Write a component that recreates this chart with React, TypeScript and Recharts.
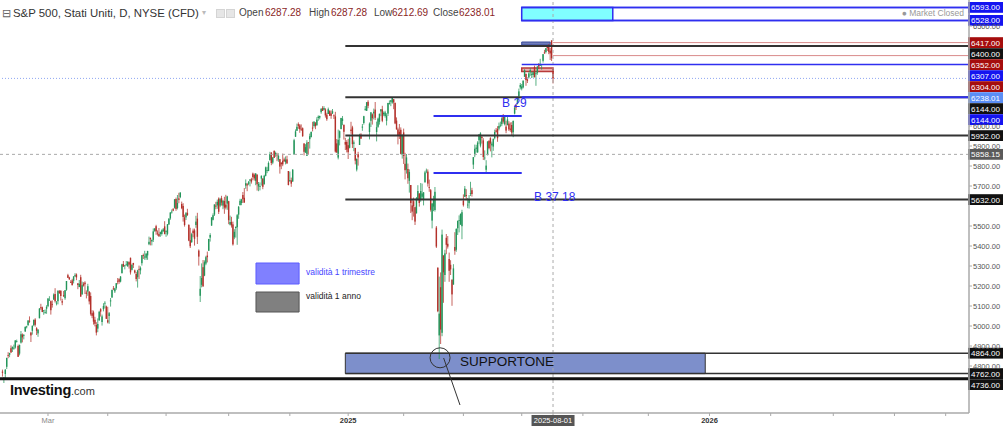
import React from 'react';
import { ComposedChart, Bar, XAxis, YAxis, ReferenceLine, ReferenceArea, ReferenceDot } from 'recharts';

type Row = [number, number, number, number]; // open, high, low, close

const jan24: Row[] = [
  [4772,4782,4747,4766],[4739,4745,4715,4739],[4760,4785,4740,4781],[4796,4842,4785,4840],
  [4854,4869,4839,4850],[4856,4866,4844,4865],[4889,4903,4865,4868],[4886,4898,4870,4895],
  [4888,4907,4881,4891],[4892,4929,4887,4928],[4925,4932,4917,4925],[4900,4907,4845,4846],
];
const feb24: Row[] = [
  [4862,4906,4853,4906],[4917,4975,4912,4959],[4957,4963,4918,4943],[4950,4960,4933,4954],
  [4973,4999,4970,4995],[4995,5001,4988,4998],[5004,5030,5001,5027],[5026,5048,5016,5022],
  [4967,4971,4920,4953],[4976,5003,4957,5001],[5004,5033,4999,5030],[5032,5039,4997,5006],
  [4989,4994,4955,4976],[4963,4984,4946,4982],[5039,5090,5038,5087],[5094,5111,5081,5089],
  [5093,5097,5069,5070],[5074,5080,5056,5078],[5067,5083,5061,5070],[5086,5104,5061,5096],
];
const mar24: Row[] = [
  [5099,5140,5094,5137],[5131,5149,5127,5131],[5124,5127,5057,5079],[5109,5128,5092,5105],
  [5132,5163,5131,5157],[5160,5189,5117,5124],[5112,5125,5103,5117],[5124,5180,5108,5175],
  [5174,5180,5160,5165],[5176,5179,5127,5150],[5124,5136,5104,5117],[5154,5175,5145,5149],
  [5139,5180,5131,5179],[5181,5225,5176,5225],[5254,5261,5240,5241],[5243,5246,5230,5234],
  [5219,5229,5216,5218],[5228,5236,5203,5204],[5226,5249,5213,5248],[5248,5264,5246,5254],
];
const apr24: Row[] = [
  [5258,5263,5229,5243],[5213,5215,5184,5205],[5195,5230,5194,5211],[5244,5256,5146,5147],
  [5158,5222,5157,5204],[5211,5219,5197,5202],[5217,5224,5160,5209],[5167,5178,5138,5161],
  [5172,5211,5151,5199],[5171,5175,5108,5123],[5150,5168,5052,5061],[5064,5079,5039,5051],
  [5068,5077,5007,5022],[5031,5046,4998,5011],[5005,5019,4953,4967],[4987,5038,4969,5010],
  [5028,5076,5027,5071],[5084,5089,5047,5072],[5020,5057,5002,5048],[5084,5114,5073,5100],
  [5114,5124,5088,5116],[5098,5102,5035,5036],
];
const may24: Row[] = [
  [5029,5096,5013,5018],[5050,5070,5011,5064],[5123,5140,5097,5128],[5142,5181,5142,5181],
  [5188,5200,5179,5187],[5173,5191,5165,5188],[5189,5215,5181,5214],[5226,5240,5208,5223],
  [5234,5239,5211,5221],[5222,5250,5218,5247],[5264,5311,5263,5308],[5310,5325,5296,5297],
  [5303,5305,5283,5303],[5305,5325,5302,5308],[5298,5324,5297,5321],[5319,5323,5287,5307],
  [5341,5342,5257,5268],[5281,5311,5278,5305],[5315,5316,5290,5306],[5278,5282,5262,5267],
  [5260,5270,5223,5235],[5244,5281,5192,5278],
];
const jun24: Row[] = [
  [5285,5302,5235,5283],[5278,5298,5258,5291],[5314,5355,5302,5354],[5354,5362,5335,5352],
  [5344,5376,5331,5347],[5341,5365,5331,5361],[5353,5376,5331,5375],[5409,5447,5404,5421],
  [5441,5442,5403,5434],[5423,5432,5403,5431],[5431,5488,5420,5473],[5476,5490,5471,5487],
  [5499,5506,5456,5473],[5466,5478,5452,5465],[5460,5490,5447,5448],[5460,5472,5446,5469],
  [5460,5483,5452,5478],[5473,5490,5472,5483],[5498,5524,5458,5460],
];
const jul24: Row[] = [
  [5472,5479,5446,5475],[5461,5510,5453,5509],[5507,5539,5507,5537],[5538,5570,5531,5567],
  [5572,5583,5562,5572],[5584,5590,5574,5577],[5591,5635,5587,5633],[5635,5642,5576,5585],
  [5590,5655,5583,5615],[5638,5666,5614,5631],[5644,5669,5639,5667],[5610,5622,5584,5589],
  [5600,5614,5522,5545],[5543,5557,5497,5505],[5543,5570,5530,5564],[5566,5586,5550,5555],
  [5505,5509,5424,5427],[5429,5491,5390,5399],[5419,5466,5416,5459],[5477,5487,5444,5464],
  [5478,5487,5402,5436],[5505,5551,5491,5522],
];
const aug24: Row[] = [
  [5537,5566,5410,5446],[5377,5383,5302,5347],[5151,5250,5120,5186],[5206,5313,5193,5240],
  [5294,5330,5195,5199],[5252,5328,5249,5319],[5312,5351,5304,5344],[5352,5372,5318,5344],
  [5376,5436,5376,5435],[5442,5464,5422,5455],[5502,5544,5501,5543],[5531,5563,5528,5554],
  [5557,5608,5550,5608],[5602,5621,5584,5597],[5603,5632,5586,5621],[5637,5643,5560,5571],
  [5602,5641,5594,5634],[5639,5651,5602,5617],[5602,5631,5584,5626],[5625,5646,5561,5592],
  [5607,5656,5583,5592],[5612,5651,5581,5648],
];
const sep24: Row[] = [
  [5624,5626,5509,5529],[5507,5552,5503,5520],[5520,5546,5492,5503],[5508,5522,5402,5408],
  [5443,5484,5434,5471],[5490,5497,5442,5496],[5494,5560,5406,5554],[5557,5600,5536,5596],
  [5604,5636,5604,5626],[5615,5636,5604,5633],[5655,5670,5615,5634],[5641,5690,5615,5618],
  [5702,5733,5686,5714],[5709,5715,5674,5703],[5711,5725,5704,5719],[5727,5735,5698,5732],
  [5733,5741,5712,5722],[5762,5767,5729,5745],[5756,5763,5727,5738],[5726,5765,5704,5762],
];
const oct24: Row[] = [
  [5757,5758,5677,5709],[5698,5720,5674,5710],[5698,5718,5678,5700],[5737,5753,5702,5751],
  [5737,5739,5684,5696],[5709,5756,5707,5751],[5751,5797,5748,5793],[5778,5796,5764,5780],
  [5775,5823,5774,5815],[5829,5871,5828,5859],[5866,5870,5804,5815],[5817,5844,5809,5843],
  [5875,5879,5840,5841],[5859,5872,5846,5865],[5857,5866,5824,5853],[5832,5863,5821,5851],
  [5834,5835,5762,5797],[5817,5818,5784,5809],[5826,5862,5799,5808],[5833,5842,5822,5823],
  [5819,5848,5808,5832],[5833,5851,5811,5813],[5775,5775,5703,5705],
];
const nov24: Row[] = [
  [5723,5772,5723,5729],[5728,5742,5696,5712],[5722,5784,5722,5782],[5858,5936,5856,5929],
  [5946,5983,5946,5973],[5976,6012,5976,5996],[6009,6018,5986,6001],[6003,6010,5966,5984],
  [5986,6008,5975,5985],[5989,5993,5946,5949],[5912,5915,5853,5871],[5867,5909,5866,5894],
  [5851,5929,5850,5917],[5918,5920,5860,5917],[5934,5962,5887,5949],[5944,5973,5944,5970],
  [5992,6021,5973,5987],[6000,6025,5992,6021],[6014,6020,5984,5999],[6003,6044,6003,6032],
];
const dec24: Row[] = [
  [6040,6053,6026,6047],[6042,6052,6033,6050],[6069,6089,6061,6086],[6089,6099,6075,6075],
  [6081,6099,6079,6090],[6083,6089,6042,6053],[6057,6066,6026,6034],[6060,6092,6060,6084],
  [6074,6079,6051,6051],[6063,6078,6036,6051],[6063,6085,6060,6074],[6053,6058,6035,6051],
  [6048,6071,5867,5872],[5913,5935,5866,5867],[5842,5982,5833,5931],[5941,5978,5903,5974],
  [5985,6041,5983,6040],[6025,6050,6004,6037],[6006,6007,5932,5971],[5920,5941,5880,5907],
  [5920,5929,5868,5882],
];
const jan25: Row[] = [
  [5904,5935,5835,5869],[5891,5949,5888,5942],[5982,6021,5961,5975],[5993,6001,5890,5909],
  [5911,5928,5874,5918],[5890,5891,5808,5827],[5782,5837,5773,5836],[5859,5871,5802,5843],
  [5905,5961,5905,5950],[5957,5964,5935,5937],[5992,6010,5976,5997],[6015,6051,6007,6049],
  [6081,6100,6076,6086],[6076,6119,6075,6119],[6121,6129,6089,6101],[5970,6018,5933,6012],
  [6026,6070,5995,6068],[6058,6063,6007,6039],[6063,6087,6033,6071],[6082,6120,6030,6041],
];
const feb25: Row[] = [
  [5970,6022,5923,5994],[5996,6042,5991,6037],[6021,6062,6007,6061],[6073,6084,6049,6084],
  [6083,6101,6019,6026],[6058,6073,6049,6066],[6050,6076,6042,6068],[6026,6064,6003,6052],
  [6062,6116,6050,6115],[6115,6128,6107,6115],[6121,6129,6099,6129],[6117,6145,6111,6144],
  [6134,6134,6084,6118],[6115,6118,6009,6013],[6027,6043,5982,5983],[5983,5992,5908,5955],
  [5971,6010,5935,5956],[5981,5993,5858,5861],[5856,5959,5837,5955],
];
const mar25: Row[] = [
  [5968,5987,5810,5850],[5811,5866,5733,5779],[5782,5860,5762,5843],[5785,5812,5711,5739],
  [5726,5783,5667,5770],[5705,5705,5565,5615],[5603,5636,5529,5572],[5624,5642,5547,5599],
  [5594,5597,5505,5522],[5563,5645,5563,5639],[5635,5704,5628,5675],[5662,5665,5597,5615],
  [5632,5715,5621,5675],[5646,5712,5633,5663],[5630,5670,5603,5668],[5718,5776,5718,5768],
  [5775,5787,5764,5777],[5772,5783,5697,5712],[5695,5732,5671,5693],[5679,5685,5572,5581],
  [5527,5615,5488,5612],
];
const apr25: Row[] = [
  [5597,5651,5574,5633],[5580,5695,5572,5671],[5492,5500,5390,5397],[5292,5292,5069,5074],
  [4953,5247,4835,5062],[5194,5268,4910,4982],[4966,5482,4949,5457],[5353,5353,5116,5268],
  [5255,5381,5221,5363],[5441,5460,5359,5406],[5411,5450,5387,5397],[5335,5367,5221,5276],
  [5306,5329,5255,5283],[5232,5232,5101,5158],[5207,5309,5207,5288],[5395,5469,5356,5376],
  [5381,5489,5371,5485],[5489,5528,5455,5525],[5529,5553,5468,5529],[5508,5563,5505,5560],
  [5499,5581,5434,5569],
];
const may25: Row[] = [
  [5626,5658,5597,5604],[5646,5700,5645,5687],[5655,5684,5629,5650],[5605,5640,5589,5607],
  [5614,5655,5587,5631],[5663,5721,5650,5664],[5679,5691,5647,5660],[5807,5845,5785,5844],
  [5854,5907,5844,5886],[5886,5906,5867,5892],[5869,5924,5865,5917],[5929,5959,5911,5958],
  [5902,5969,5893,5963],[5945,5954,5912,5940],[5928,5939,5830,5845],[5841,5878,5829,5842],
  [5781,5829,5768,5802],[5854,5924,5854,5922],[5925,5930,5883,5889],[5939,5944,5873,5912],
  [5903,5922,5843,5912],
];
const jun25: Row[] = [
  [5897,5937,5876,5936],[5939,5982,5933,5970],[5978,5990,5967,5971],[5985,5999,5921,5939],
  [5987,6017,5978,6000],[6004,6022,5994,6006],[6009,6044,5999,6038],[6049,6060,6012,6022],
  [6009,6045,6003,6045],[5997,6026,5964,5977],[6004,6051,6004,6033],[6012,6024,5975,5983],
  [5987,6018,5971,5981],[6005,6019,5952,5967],[5969,6028,5944,6025],[6062,6101,6058,6092],
  [6104,6108,6080,6092],[6112,6146,6108,6141],[6150,6187,6134,6173],[6193,6215,6183,6205],
];
const jul25: Row[] = [
  [6187,6210,6178,6198],[6193,6227,6188,6227],[6246,6284,6246,6279],[6260,6263,6201,6230],
  [6233,6243,6215,6226],[6243,6269,6237,6263],[6269,6290,6251,6280],[6256,6270,6240,6260],
  [6255,6272,6242,6269],[6295,6302,6243,6244],[6259,6274,6201,6264],[6266,6300,6256,6297],
  [6305,6315,6285,6297],[6304,6336,6303,6305],[6306,6310,6282,6309],[6326,6360,6317,6359],
  [6368,6381,6361,6363],[6370,6390,6363,6389],[6397,6401,6375,6390],[6404,6410,6359,6371],
  [6377,6390,6330,6363],[6428,6428,6325,6339],
];
const aug25: Row[] = [[6287.28, 6287.28, 6212.69, 6238.01]];

const months = [jan24, feb24, mar24, apr24, may24, jun24, jul24, aug24, sep24, oct24, nov24, dec24,
  jan25, feb25, mar25, apr25, may25, jun25, jul25, aug25];
const candles = months.flat().map((r, i) => ({ i, o: r[0], h: r[1], l: r[2], c: r[3] }));

// x axis (trading-day index; 0 = 16 Jan 2024)
const X_MIN = -1.74;
const X_MAX = 679.4;
const xTicks = [32, 74, 115, 159, 202, 243, 282, 324, 365, 387, 408, 454, 497, 540, 584, 627, 663];
const xTickLabels: Record<number, string> = { 32: 'Mar', 243: '2025', 497: '2026' };
const crossIdx = 387;
const crossLabel = '2025-08-01';
// price ticks whose labels are not covered by the price boxes
const yTicks = [4800, 4900, 5000, 5100, 5200, 5300, 5400, 5500, 5700, 5800, 5900, 6000, 6500];

const header = { open: '6287.28', high: '6287.28', low: '6212.69', close: '6238.01' };

const BLUE = '#2f2ff0';
const BLACK = '#333333';
const RED_L = '#d98a8a';
const GREEN = '#23955a';
const RED = '#b3302a';

// drawings (trading-day index, price)
const hLines = [
  { y: 6593, x1: 365, x2: X_MAX, color: BLUE, w: 1.5 },
  { y: 6528, x1: 365, x2: X_MAX, color: BLUE, w: 1.5 },
  { y: 6417, x1: 387, x2: X_MAX, color: RED_L, w: 1 },
  { y: 6400, x1: 241, x2: X_MAX, color: BLACK, w: 2 },
  { y: 6352, x1: 387, x2: X_MAX, color: RED_L, w: 1 },
  { y: 6307, x1: 365, x2: X_MAX, color: BLUE, w: 1.5 },
  { y: 6144, x1: 241, x2: X_MAX, color: BLACK, w: 2 },
  { y: 6144, x1: 365, x2: X_MAX, color: BLUE, w: 2 },
  { y: 6050, x1: 303, x2: 365, color: BLUE, w: 2 },
  { y: 5952, x1: 241, x2: X_MAX, color: BLACK, w: 2 },
  { y: 5765, x1: 303, x2: 365, color: BLUE, w: 2 },
  { y: 5632, x1: 241, x2: X_MAX, color: BLACK, w: 2 },
  { y: 4864, x1: 241, x2: X_MAX, color: BLACK, w: 1.5 },
  { y: 4762, x1: 241, x2: X_MAX, color: BLACK, w: 1.5 },
  { y: 4736, x1: X_MIN, x2: X_MAX, color: '#111', w: 3 },
];

const priceLabels = [
  { v: 6593, color: '#1414f0' },
  { v: 6528, color: '#1414f0' },
  { v: 6417, color: '#a50d0d' },
  { v: 6400, color: '#111' },
  { v: 6352, color: '#a50d0d' },
  { v: 6307, color: '#1414f0' },
  { v: 6304, color: '#a50d0d' },
  { v: 6238.01, color: '#5b8ef5' },
  { v: 6144, color: '#111' },
  { v: 6144, color: '#1414f0' },
  { v: 5952, color: '#111' },
  { v: 5858.15, color: '#5a5a5a' },
  { v: 5632, color: '#111' },
  { v: 4864, color: '#111' },
  { v: 4762, color: '#111' },
  { v: 4736, color: '#111' },
];
const LABEL_GAP = 55; // min vertical gap between stacked labels, price units
const stackedLabels = (() => {
  let prev = Infinity;
  return priceLabels.map((p) => {
    const at = Math.min(p.v, prev - LABEL_GAP);
    prev = at;
    return { ...p, at };
  });
})();

const FONT = 'Liberation Sans, Arial, sans-serif';

const Candle = (props: any) => {
  const { x, y, width, height, payload } = props;
  if (!payload || height == null) return null;
  const { o, h, l, c } = payload;
  const up = c >= o;
  const color = up ? GREEN : RED;
  const range = h - l || 1;
  const py = (v: number) => y + ((h - v) / range) * height;
  const cx = x + width / 2;
  const top = py(Math.max(o, c));
  const bot = py(Math.min(o, c));
  return (
    <g>
      <line x1={cx} x2={cx} y1={y} y2={y + height} stroke={color} strokeWidth={0.75} />
      <rect x={cx - 0.7} y={top} width={1.4} height={Math.max(bot - top, 0.8)} fill={color} />
    </g>
  );
};

const XTick = (p: any) => {
  const { x, y, payload } = p;
  const v = payload.value;
  if (v === crossIdx) {
    return (
      <g>
        <rect x={x - 21.5} y={y - 1} width={43} height={11} fill="#555" />
        <text x={x} y={y + 7} textAnchor="middle" fill="#fff" fontSize={7.5} fontFamily={FONT}>{crossLabel}</text>
      </g>
    );
  }
  const lab = xTickLabels[v];
  if (!lab) return null;
  const year = lab !== 'Mar';
  return (
    <text x={x} y={y + 7} textAnchor="middle" fill={year ? '#333' : '#888'} fontWeight={year ? 'bold' : 'normal'} fontSize={7.5} fontFamily={FONT}>{lab}</text>
  );
};

const priceBox = (text: string, color: string) => (props: any) => {
  const vb = props.viewBox || {};
  const right = vb.x + vb.width;
  const cy = vb.y;
  return (
    <g>
      <rect x={right - 1} y={cy - 5.4} width={35} height={10.8} fill={color} />
      <text x={right + 16.5} y={cy + 3} textAnchor="middle" fill="#fff" fontSize={8} fontFamily={FONT}>{text}</text>
    </g>
  );
};

const textAt = (text: string, color: string, size: number, anchor: string = 'start') => (props: any) => {
  const vb = props.viewBox || {};
  return (
    <text x={vb.x} y={vb.y + size * 0.36} fill={color} fontSize={size} textAnchor={anchor} fontFamily={FONT}>{text}</text>
  );
};

const ohlcItems: [string, string, number, number][] = [
  ['Open', header.open, 239, 265],
  ['High', header.high, 309, 331],
  ['Low', header.low, 374, 392],
  ['Close', header.close, 433, 459],
];

export default function App() {
  return (
    <div style={{ position: 'fixed', left: 0, top: 0, width: 1004, height: 427, background: '#fff', overflow: 'hidden', fontFamily: FONT }}>
      <ComposedChart width={1004} height={427} data={candles} margin={{ top: 0, right: 0, bottom: 0, left: 0 }}>
        <XAxis dataKey="i" type="number" domain={[X_MIN, X_MAX]} allowDataOverflow ticks={xTicks} tick={<XTick />} height={14}
          axisLine={{ stroke: '#aaa', strokeWidth: 1.5 }} tickLine={{ stroke: '#aaa' }} tickSize={3} tickMargin={0} interval={0} />
        <YAxis orientation="right" type="number" domain={[4565, 6630]} allowDataOverflow ticks={yTicks} width={35}
          tickFormatter={(v: number) => v.toFixed(2)} tick={{ fontSize: 7.5, fill: '#555', fontFamily: FONT }}
          axisLine={{ stroke: '#aaa', strokeWidth: 1.5 }} tickLine={{ stroke: '#aaa' }} tickSize={3} tickMargin={1} interval={0} />

        {/* zones */}
        <ReferenceArea x1={365} x2={X_MAX} y1={6528} y2={6593} fill="#fff" fillOpacity={0} stroke={BLUE} strokeWidth={1.5} />
        <ReferenceArea x1={365} x2={429} y1={6528} y2={6593} fill="#80ffff" fillOpacity={1} stroke={BLUE} strokeWidth={1.5} />
        <ReferenceArea x1={365} x2={385} y1={6405} y2={6420} fill="#5565ad" fillOpacity={0.85} stroke="#3a4a9a" strokeWidth={1} />
        <ReferenceArea x1={365} x2={387} y1={6272} y2={6290} fill="#e8a0a0" fillOpacity={0.8} stroke="#b83a3a" strokeWidth={1.5} />
        <ReferenceArea x1={178.2} x2={208.5} y1={5210} y2={5315} fill="#8080ff" fillOpacity={1} stroke="#5c5cff" strokeWidth={1} />
        <ReferenceArea x1={178.2} x2={208.5} y1={5070} y2={5170} fill="#808080" fillOpacity={1} stroke="#555" strokeWidth={1} />

        {/* crosshair & price lines */}
        <ReferenceLine x={crossIdx} stroke="#aaa" strokeDasharray="3 3" strokeWidth={1} />
        <ReferenceLine y={5858.15} stroke="#aaa" strokeDasharray="3 3" strokeWidth={1} />
        <ReferenceLine y={6238.01} stroke="#8ea6f2" strokeDasharray="1 2" strokeWidth={1} />
        {hLines.map((l, k) => (
          <ReferenceLine key={'h' + k} segment={[{ x: l.x1, y: l.y }, { x: l.x2, y: l.y }]} stroke={l.color} strokeWidth={l.w} />
        ))}

        <Bar dataKey={(d: any) => [d.l, d.h]} shape={<Candle />} barSize={1.4} isAnimationActive={false} />

        <ReferenceArea x1={241} x2={494} y1={4762} y2={4864} fill="#7d8fcb" fillOpacity={1} stroke="#333" strokeWidth={1} />
        <ReferenceDot x={321.6} y={4825} r={0} fill="none" stroke="none" label={textAt('SUPPORTONE', '#111', 13.5)} />
        <ReferenceDot x={307.6} y={4841} r={10} fill="none" stroke="#333" strokeWidth={1} />
        <ReferenceLine segment={[{ x: 310.1, y: 4840 }, { x: 321.6, y: 4605 }]} stroke="#333" strokeWidth={1} />

        <ReferenceDot x={351.2} y={6115} r={0} fill="none" stroke="none" label={textAt('B 29', BLUE, 12)} />
        <ReferenceDot x={373.7} y={5645} r={0} fill="none" stroke="none" label={textAt('B 37 18', BLUE, 12)} />
        <ReferenceDot x={213.4} y={5270} r={0} fill="none" stroke="none" label={textAt('validità 1 trimestre', '#4646ff', 8.5)} />
        <ReferenceDot x={213.4} y={5150} r={0} fill="none" stroke="none" label={textAt('validità 1 anno', '#222', 8.5)} />

        {stackedLabels.map((p, k) => (
          <ReferenceLine key={'p' + k} y={p.at} stroke="none" label={priceBox(p.v.toFixed(2), p.color)} />
        ))}
      </ComposedChart>

      {/* header */}
      <div style={{ position: 'absolute', left: 2, top: 6, fontSize: 11, color: '#666', lineHeight: '14px' }}>⊟</div>
      <div style={{ position: 'absolute', left: 13, top: 6, fontSize: 11.4, color: '#333', lineHeight: '14px', whiteSpace: 'nowrap' }}>S&amp;P 500, Stati Uniti, D, NYSE (CFD)</div>
      <div style={{ position: 'absolute', left: 202, top: 6, fontSize: 8, color: '#bbb', lineHeight: '14px' }}>▾</div>
      <div style={{ position: 'absolute', left: 216, top: 9, width: 7, height: 7, background: '#e6e6e6', border: '1px solid #d4d4d4' }} />
      <div style={{ position: 'absolute', left: 226, top: 9, width: 7, height: 7, background: '#e6e6e6', border: '1px solid #d4d4d4' }} />
      {ohlcItems.map(([k, v, x1, x2]) => (
        <React.Fragment key={k}>
          <div style={{ position: 'absolute', left: x1, top: 6, fontSize: 10, color: '#444', lineHeight: '14px' }}>{k}</div>
          <div style={{ position: 'absolute', left: x2, top: 6, fontSize: 10, color: '#8b1f1f', lineHeight: '14px' }}>{v}</div>
        </React.Fragment>
      ))}
      <div style={{ position: 'absolute', right: 40, top: 8, fontSize: 8.5, color: '#999', lineHeight: '11px', whiteSpace: 'nowrap' }}>● Market Closed</div>

      {/* logo */}
      <div style={{ position: 'absolute', left: 10, top: 382, lineHeight: '16px', whiteSpace: 'nowrap' }}>
        <span style={{ fontSize: 14.5, fontWeight: 'bold', color: '#111', letterSpacing: -0.3 }}>Investing</span>
        <span style={{ fontSize: 11, color: '#333' }}>.com</span>
      </div>
    </div>
  );
}
